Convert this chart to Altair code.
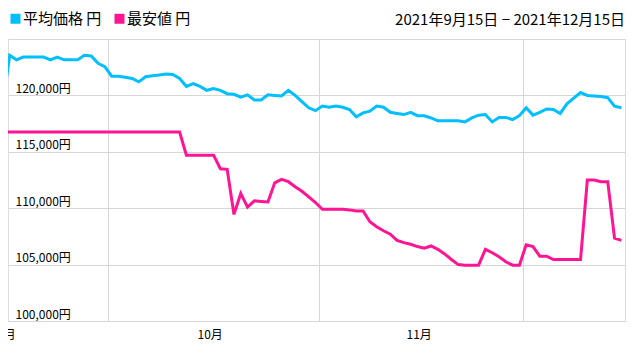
import altair as alt
import pandas as pd

FONT = "Noto Sans CJK JP"

# ---- data ----
dates = pd.date_range("2021-09-15", "2021-12-15", freq="D")

avg_price = [
    # Sep 15 - Sep 30
    119250, 123550, 123150, 123400, 123400, 123400, 123400, 123150,
    123400, 123150, 123150, 123150, 123550, 123500, 122850, 122550,
    # Oct 1 - Oct 31
    121700, 121700, 121600, 121500, 121200, 121650, 121750, 121800,
    121900, 121850, 121500, 120800, 121050, 120800, 120450, 120600,
    120450, 120150, 120100, 119850, 120050, 119600, 119600, 120050,
    120000, 119950, 120450, 120000, 119450, 118900, 118650,
    # Nov 1 - Nov 30
    119050, 118950, 119050, 118950, 118750, 118100, 118450, 118600,
    119050, 118950, 118500, 118400, 118300, 118500, 118200, 118200,
    118000, 117750, 117750, 117750, 117750, 117650, 118000, 118250,
    118300, 117650, 118050, 118050, 117850, 118200,
    # Dec 1 - Dec 15
    118900, 118250, 118500, 118800, 118750, 118400, 119250, 119750,
    120250, 120000, 119950, 119900, 119800, 119050, 118900,
]

min_price = [
    # Sep 15 - Sep 30
    116750, 116750, 116750, 116750, 116750, 116750, 116750, 116750,
    116750, 116750, 116750, 116750, 116750, 116750, 116750, 116750,
    # Oct 1 - Oct 31
    116750, 116750, 116750, 116750, 116750, 116750, 116750, 116750,
    116750, 116750, 116750, 114700, 114700, 114700, 114700, 114700,
    113500, 113450, 109450, 111300, 110100, 110650, 110600, 110550,
    112250, 112550, 112350, 111900, 111500, 111000, 110500,
    # Nov 1 - Nov 30
    109900, 109900, 109900, 109900, 109850, 109750, 109750, 108800,
    108350, 108000, 107700, 107150, 106950, 106800, 106600, 106450,
    106650, 106350, 105950, 105450, 105000, 104950, 104950, 104950,
    106350, 106050, 105700, 105250, 104950, 104950,
    # Dec 1 - Dec 15
    106750, 106600, 105750, 105750, 105450, 105450, 105450, 105450,
    105450, 112500, 112500, 112350, 112350, 107350, 107150,
]

series_names = ["平均価格 円", "最安値 円"]
series_colors = ["#00bfff", "#ff1493"]

month_labels = ["9月", "10月", "11月"]
month_label_dates = ["2021-09-16T00:00:00Z", "2021-10-16T00:00:00Z", "2021-11-15T18:00:00Z"]

y_ticks = [100000, 105000, 110000, 115000, 120000, 125000]
range_text = ["2021年9月15日 − 2021年12月15日"]

# ---- tables ----
stamps = [(d + pd.Timedelta(hours=12)).strftime("%Y-%m-%dT%H:%M:%SZ") for d in dates]
df = pd.DataFrame({
    "date": stamps * 2,
    "price": avg_price + min_price,
    "series": [series_names[0]] * len(stamps) + [series_names[1]] * len(stamps),
})
months_df = pd.DataFrame({"date": month_label_dates, "label": month_labels})
range_df = pd.DataFrame({"t": range_text})

W, H = 617, 282
GRID = "#d6d6d6"

x_scale = alt.Scale(
    type="utc",
    domain=[
        alt.DateTime(year=2021, month=9, date=16, hours=6, utc=True),
        alt.DateTime(year=2021, month=12, date=16, hours=1, utc=True),
    ],
)
x_axis = alt.Axis(
    values=[alt.DateTime(year=2021, month=m, date=1, utc=True) for m in (10, 11, 12)],
    labels=False, ticks=False, grid=True, gridColor=GRID, gridWidth=1,
    domain=True, domainColor=GRID, domainWidth=1, title=None,
)

lines = alt.Chart(df).mark_line(strokeWidth=3, clip=True).encode(
    x=alt.X("date:T", scale=x_scale, axis=x_axis),
    y=alt.Y(
        "price:Q",
        scale=alt.Scale(domain=[100000, 125000], nice=False, zero=False),
        axis=alt.Axis(
            values=y_ticks, orient="left", grid=True, gridColor=GRID, gridWidth=1,
            domain=False, ticks=False, tickSize=0, labelAlign="left",
            labelPadding=-7, labelBaseline="alphabetic", labelOffset=-3,
            labelFontSize=12, labelFont=FONT, labelColor="#000",
            labelExpr="datum.value >= 125000 ? '' : format(datum.value, ',') + '円'",
            title=None,
        ),
    ),
    color=alt.Color(
        "series:N",
        scale=alt.Scale(domain=series_names, range=series_colors),
        legend=alt.Legend(
            title=None, orient="none", legendX=0, legendY=-28,
            direction="horizontal", symbolType="square", symbolSize=4,
            symbolStrokeWidth=8, labelFontSize=15, labelFont=FONT,
            labelColor="#000", labelOffset=0, columnPadding=0, padding=0,
            labelLimit=300,
        ),
    ),
)

month_text = alt.Chart(months_df).mark_text(
    fontSize=12, font=FONT, color="#000", align="center", baseline="middle"
).encode(
    x=alt.X("date:T", scale=x_scale, axis=x_axis),
    y=alt.value(H + 14),
    text="label:N",
)

range_label = alt.Chart(range_df).mark_text(
    fontSize=15, font=FONT, color="#000", align="right", baseline="middle"
).encode(
    x=alt.value(W),
    y=alt.value(-19),
    text="t:N",
)

chart = alt.layer(lines, month_text, range_label).properties(
    width=W,
    height=H,
    padding={"left": 0, "top": 31, "right": 3, "bottom": 28},
    autosize="none",
).configure_view(stroke=None).configure(font=FONT)

chart.save("out.html", embed_options={"renderer": "svg", "actions": False})
